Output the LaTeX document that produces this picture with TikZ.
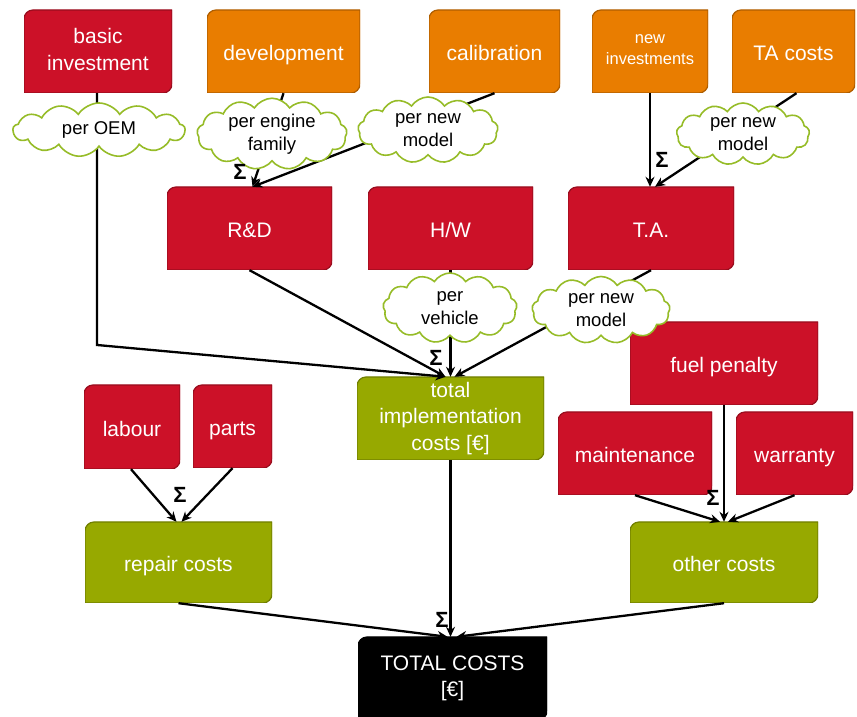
\documentclass[tikz,border=0pt]{standalone}
\usepackage{fontspec}
\setmainfont{Liberation Sans}
\usetikzlibrary{arrows.meta,shapes.symbols}
\definecolor{cardred}{RGB}{204,17,40}
\definecolor{cardorange}{RGB}{233,125,0}
\definecolor{cardgreen}{RGB}{151,169,0}
\definecolor{cardblack}{RGB}{0,0,0}
\definecolor{puffgreen}{RGB}{150,188,40}
\newcommand\cardrad{9pt}
% line strut that keeps box labels on a common baseline
\newcommand\cardstrut{\rule[-0.15\baselineskip]{0pt}{\baselineskip}}
\tikzset{
  % box with rounded top-left and bottom-right corners
  card/.style={rectangle, inner sep=2pt, align=center, text=white,
    font=\fontsize{21}{26.5}\selectfont,
    execute at begin node=\cardstrut, execute at end node=\cardstrut,
    path picture={
      \fill[fill=#1, draw=#1!75!black, line width=1.2pt]
        (path picture bounding box.south west)
        -- ([yshift=-\cardrad]path picture bounding box.north west)
        arc[start angle=180, end angle=90, radius=\cardrad]
        -- (path picture bounding box.north east)
        -- ([yshift=\cardrad]path picture bounding box.south east)
        arc[start angle=0, end angle=-90, radius=\cardrad]
        -- cycle;
    }},
  puff/.style={cloud, cloud puffs=13, cloud puff arc=115, cloud ignores aspect,
    draw=puffgreen, line width=1.6pt, fill=white, align=center, inner sep=0pt,
    font=\fontsize{18.5}{23}\selectfont},
  flow/.style={line width=2.3pt, -{Stealth[length=10pt,width=9pt]}},
  sig/.style={font=\fontsize{22}{22}\selectfont\bfseries, inner sep=0pt}
}
\begin{document}
\begin{tikzpicture}[x=1pt,y=1pt]
\useasboundingbox (0,0) rectangle (857,717);

% top row
\node[card=cardred, minimum width=148, minimum height=83] (inv) at (98,665.5) {basic\\investment};
\node[card=cardorange, minimum width=153, minimum height=83] (dev) at (283.5,665.5) {development};
\node[card=cardorange, minimum width=131, minimum height=83] (cal) at (494.5,665.5) {calibration};
\node[card=cardorange, minimum width=116, minimum height=83, font=\fontsize{16.5}{21}\selectfont] (newinv) at (650,665.5) {new\\investments};
\node[card=cardorange, minimum width=123, minimum height=83] (tac) at (793.5,665.5) {TA costs};

% second row
\node[card=cardred, minimum width=165, minimum height=83] (rd) at (249.5,488.5) {R\&D};
\node[card=cardred, minimum width=165, minimum height=83] (hw) at (450.5,488.5) {H/W};
\node[card=cardred, minimum width=166, minimum height=83] (ta) at (651,488.5) {T.A.};

% middle
\node[card=cardred, minimum width=188, minimum height=83] (fuel) at (724,353.5) {fuel penalty};
\node[card=cardgreen, minimum width=187, minimum height=83] (tic) at (450.5,298.5) {total\\implementation\\{}costs [€]};
\node[card=cardred, minimum width=154, minimum height=83] (maint) at (635,263.5) {maintenance};
\node[card=cardred, minimum width=117, minimum height=83] (war) at (794.5,263.5) {warranty};
\node[card=cardred, minimum width=96, minimum height=84] (lab) at (132,290) {labour};
\node[card=cardred, minimum width=79, minimum height=83] (parts) at (232.5,290.5) {parts};

% lower row
\node[card=cardgreen, minimum width=187, minimum height=81] (repair) at (178.5,154.5) {repair costs};
\node[card=cardgreen, minimum width=188, minimum height=81] (other) at (724,154.5) {other costs};
\node[card=cardblack, minimum width=189, minimum height=83] (total) at (452.5,38.5) {TOTAL COSTS\\{}[€]};

% connectors
\coordinate (bend) at (97,372);
\draw[flow] ([xshift=-1]inv.south) -- (bend) -- ([xshift=-5]tic.north);
\draw[flow] (dev.south) -- ([xshift=3]rd.north);
\draw[flow] (cal.south) -- ([xshift=3]rd.north);
\draw[flow] (newinv.south) -- (newinv.south |- ta.north);
\draw[flow] ([xshift=3]tac.south) -- ([xshift=4]ta.north);
\draw[flow] (rd.south) -- ([xshift=-5]tic.north);
\draw[flow] (hw.south) -- (tic.north);
\draw[flow] (ta.south) -- ([xshift=4]tic.north);
\draw[flow] ([xshift=-1]lab.south) -- ([xshift=-2]repair.north);
\draw[flow] (parts.south) -- ([xshift=3]repair.north);
\draw[flow] (fuel.south) -- (other.north);
\draw[flow] (maint.south) -- ([xshift=-4]other.north);
\draw[flow] (war.south) -- ([xshift=4]other.north);
\draw[flow] (repair.south) -- ([xshift=-5]total.north);
\draw[flow] (tic.south) -- (tic.south |- total.north);
\draw[flow] (other.south) -- ([xshift=4]total.north);

% multipliers
\node[puff, minimum width=172, minimum height=54] (c1) at (99,587) {per OEM};
\node[puff, minimum width=150, minimum height=57] (c2) at (272,583) {per engine\\family};
\node[puff, minimum width=140, minimum height=66] (c3) at (428,587) {per new\\model};
\node[puff, minimum width=133, minimum height=62] (c4) at (743,583) {per new\\model};
\node[puff, minimum width=134, minimum height=70] (c5) at (450,409) {per\\vehicle};
\node[puff, minimum width=138, minimum height=67] (c6) at (601,407) {per new\\model};

% summation marks
\node[sig] (s1) at (240,545) {Σ};
\node[sig] (s2) at (662,557) {Σ};
\node[sig] (s3) at (436,359) {Σ};
\node[sig] (s4) at (180,222) {Σ};
\node[sig] (s5) at (713,219) {Σ};
\node[sig] (s6) at (442,97) {Σ};
\end{tikzpicture}
\end{document}
